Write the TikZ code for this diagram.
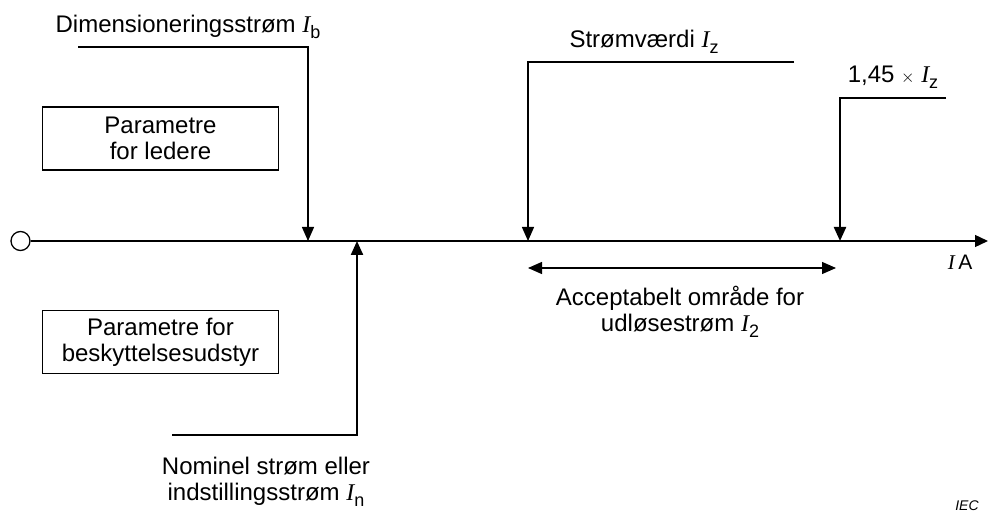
\documentclass[tikz,border=0pt]{standalone}
\usepackage{fontspec}
\setmainfont{Liberation Sans}
\newfontfamily\serifface{Liberation Serif}
\usetikzlibrary{arrows.meta}
\newcommand{\Isym}[1]{{\serifface\itshape I}\raisebox{-0.45ex}{\fontsize{18}{18}\selectfont #1}}
\begin{document}
\begin{tikzpicture}[x=1pt,y=-1pt,
  lbl/.style={font=\fontsize{24}{26}\selectfont, align=center, inner sep=0pt},
  pbox/.style={draw, line width=1.2pt, minimum width=236pt, minimum height=63pt, align=center, font=\fontsize{24}{26}\selectfont, inner sep=0pt},
  lead/.style={line width=1.3pt, -{Triangle[length=14pt,width=12pt]}},
  thicklead/.style={line width=2.2pt, -{Triangle[length=14pt,width=12pt]}},
  axisline/.style={line width=1.3pt, -{Triangle[length=13pt,width=12pt]}}
]
\useasboundingbox (0,0) rectangle (988,513);
% axis
\node[circle, draw, line width=1.3pt, minimum size=19pt, inner sep=0pt] (o) at (20.5,241) {};
\coordinate (axend) at (988,241);
\draw[axisline] (o.east) -- (axend);
% tips on axis
\coordinate (tb) at (308,241);
\coordinate (tn) at (357,241);
\coordinate (tz) at (528,241);
\coordinate (t145) at (840,241);
% Ib
\coordinate (kb) at (308,47);
\coordinate (sb) at (78,47);
\draw[lead] (sb) -- (kb) -- (tb);
\node[lbl] (lb) at (188,27) {Dimensioneringsstrøm \Isym{b}};
% In
\coordinate (kn) at (357,435);
\coordinate (sn) at (172,435);
\draw[thicklead] (sn) -- (kn) -- (tn);
\node[lbl] (ln) at (266,482) {Nominel strøm eller\\indstillingsstrøm \Isym{n}};
% Iz
\coordinate (kz) at (528,62);
\coordinate (sz) at (794,62);
\draw[lead] (sz) -- (kz) -- (tz);
\node[lbl] (lz) at (644,42) {Strømværdi \Isym{z}};
% 1.45 Iz
\coordinate (k145) at (840,98);
\coordinate (s145) at (946,98);
\draw[thicklead] (s145) -- (k145) -- (t145);
\node[lbl] (l145) at (893,77) {1,45 {\fontsize{16}{16}\selectfont$\times$} \Isym{z}};
% boxes
\node[pbox] (box1) at (160.5,138.5) {Parametre\\for ledere};
\node[pbox] (box2) at (160.5,342) {Parametre for\\beskyttelsesudstyr};
% range
\coordinate (ra) at (528,268);
\coordinate (rb) at (836,268);
\draw[line width=1.3pt, {Triangle[length=14pt,width=12pt]}-{Triangle[length=14pt,width=12pt]}] (ra) -- (rb);
\node[lbl] (lr) at (680,312) {Acceptabelt område for\\udløsestrøm \Isym{2}};
% unit
\node[lbl, font=\fontsize{21}{24}\selectfont] (lia) at (960,262) {{\serifface\itshape I}\,A};
\node[lbl, font=\fontsize{14}{16}\selectfont\itshape] (iec) at (967,506) {IEC};
\end{tikzpicture}
\end{document}
